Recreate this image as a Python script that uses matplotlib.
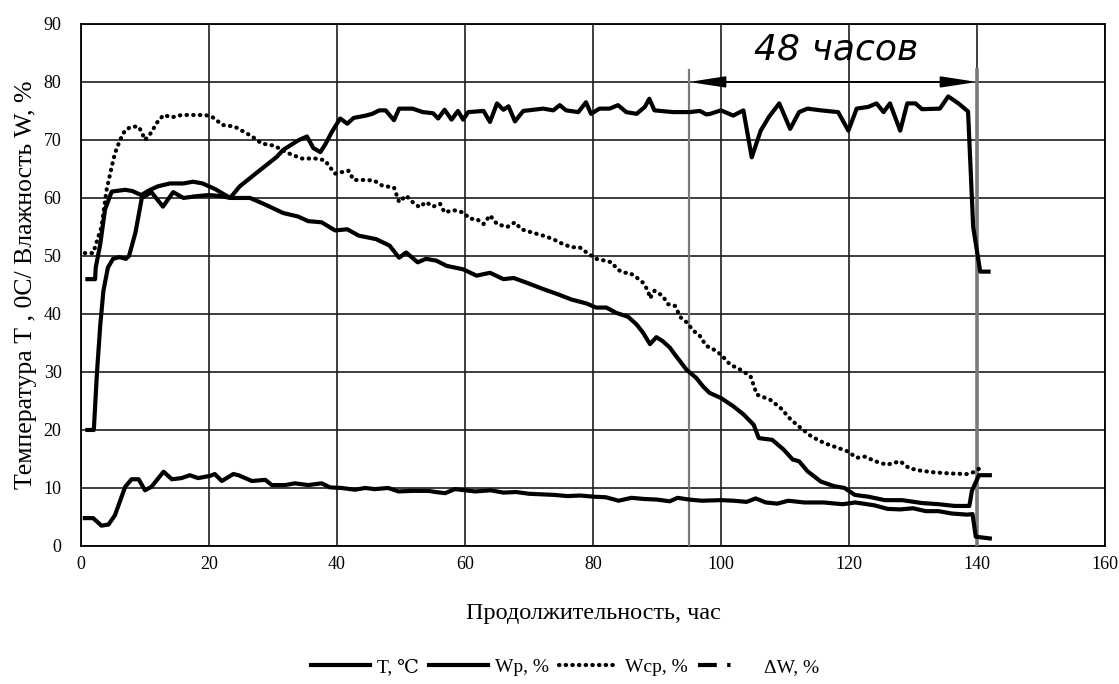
"""
Кривые сушки: температура T, влажность Wp, Wcp и ΔW по продолжительности процесса.
"""

import matplotlib
matplotlib.use("Agg")
import matplotlib.pyplot as plt
from matplotlib.lines import Line2D

# ---------------------------------------------------------------------
# Данные
# ---------------------------------------------------------------------
t_T = [1, 2, 2.5, 3, 3.5, 4.2, 5, 6, 7, 7.5, 8.5, 9.5, 11, 12.8, 14.4, 16, 18, 20,
       22, 23.3, 24.8, 27.4, 30.6, 31.6, 33.9, 35.3, 36.3, 37.4, 38.2, 39.2, 40.5,
       41.6, 42.6, 44.5, 45.5, 46.6, 47.6, 48.9, 49.7, 51.8, 53.4, 55, 55.8, 56.8,
       57.9, 58.9, 59.7, 60.5, 62.9, 63.9, 65, 66, 66.8, 67.8, 69.1, 72.2, 73.8,
       74.8, 75.8, 77.7, 78.9, 79.7, 81, 82.6, 83.9, 85.2, 86.8, 88.1, 88.8, 89.6,
       92.5, 95.1, 96.7, 97.7, 98.3, 100, 101.9, 103.5, 104.8, 106.2, 107.5, 109.1,
       110.8, 112.2, 113.5, 115.6, 118.3, 119.9, 121.2, 123, 124.3, 125.4, 126.4,
       128, 129.1, 130.4, 131.4, 134.2, 135.5, 137.1, 138.6, 139.4, 140.5, 141.8]
T_val = [20, 20, 30, 38, 44, 48, 49.5, 49.8, 49.5, 50, 54, 60, 61, 58.5, 61, 60, 60.3,
         60.5, 60.3, 60, 62, 64.3, 67.1, 68.3, 69.9, 70.6, 68.6, 67.9, 69.3, 71.4, 73.7,
         72.8, 73.8, 74.2, 74.5, 75.1, 75.1, 73.4, 75.4, 75.4, 74.8, 74.6, 73.7, 75.2,
         73.5, 75, 73.5, 74.8, 75, 73.1, 76.3, 75.2, 75.8, 73.2, 75, 75.4, 75.1,
         76, 75.1, 74.8, 76.5, 74.5, 75.4, 75.4, 76, 74.8, 74.5, 75.7, 77.1, 75.1,
         74.8, 74.8, 75, 74.4, 74.5, 75.1, 74.2, 75.1, 67, 71.6, 74, 76.3,
         71.9, 74.8, 75.4, 75.1, 74.8, 71.6, 75.4, 75.7, 76.3, 74.8, 76.3,
         71.6, 76.3, 76.3, 75.3, 75.4, 77.5, 76.3, 74.9, 55, 47.3, 47.3]

t_Wp = [1, 2.2, 2.3, 3, 3.75, 4.8, 6.9, 8, 9.4, 10.8, 12, 13.9, 16, 17.5, 19, 21, 23.3,
        26.4, 28.5, 31.6, 33.9, 35.5, 37.6, 39.7, 41.6, 43.4, 46.1, 48.2, 49.7, 50.8,
        52.6, 53.9, 55.5, 57.1, 59.7, 61.8, 63.9, 66, 67.6, 69.6, 72.2, 74.5, 76.6,
        79, 80.5, 82.1, 83.6, 85.5, 86.8, 87.8, 88.9, 89.9, 90.9, 92, 93, 94.6, 96.1,
        97.2, 98.2, 100, 101.9, 103.5, 105.1, 105.9, 108, 109.8, 111.2, 112.2, 113.5,
        115.6, 117.7, 119.3, 120.9, 123, 125.6, 128.3, 131.4, 134, 136.5, 138.8,
        139.2, 140.3, 142]
Wp_val = [46, 46, 48, 52, 58, 61.1, 61.4, 61.2, 60.5, 61.4, 62, 62.5, 62.5, 62.8, 62.5,
          61.5, 60, 60, 59, 57.4, 56.8, 56, 55.8, 54.4, 54.6, 53.5, 52.9, 51.8, 49.7,
          50.6, 48.9, 49.5, 49.2, 48.3, 47.7, 46.6, 47.1, 46, 46.2, 45.4, 44.3, 43.4,
          42.5, 41.8, 41.1, 41.1, 40.2, 39.5, 38.2, 36.8, 34.8, 36, 35.3, 34.2, 32.7,
          30.4, 29, 27.5, 26.4, 25.5, 24.1, 22.7, 20.9, 18.6, 18.3, 16.6, 14.9, 14.6,
          12.9, 11.1, 10.3, 10, 8.8, 8.5, 7.9, 7.9, 7.4, 7.2, 6.9, 6.9,
          9.5, 12.2, 12.2]

t_Wcp = [0.6, 1.9, 2.7, 3.2, 4, 4.8, 5.3, 6.1, 6.9, 7.9, 9, 9.5, 10, 11, 11.8, 12.9, 14.2,
         15.7, 17, 18.3, 19.4, 20.4, 20.9, 22, 24, 25.6, 26.6, 28.2, 30.2, 32.4, 34.5,
         36.6, 38.1, 38.9, 39.7, 41.8, 42.6, 44.5, 45.8, 47.1, 48.9, 49.7, 50.8, 51.8,
         52.9, 53.9, 55, 56.1, 56.8, 58.2, 59.7, 60.8, 61.8, 62.9, 63.9, 65, 66.6, 67.8,
         68.8, 70.6, 72.2, 73.8, 74.8, 76.6, 77.9, 79, 80.5, 81.8, 82.9, 83.9, 84.9,
         85.7, 86.8, 87.8, 88.6, 88.9, 89.6, 90.9, 91.7, 92.8, 93.7, 94.7, 95.6, 96.7,
         97.7, 98.8, 100, 101.4, 103, 104.6, 105.6, 107.7, 109.3, 110.9, 112.5, 114.1,
         116.2, 118.3, 119.8, 121.2, 122.5, 124.1, 125.9, 128, 129.4, 131.1, 133.2,
         135.8, 138.4, 139.7, 140.4]
Wcp_val = [50.5, 50.5, 53.3, 55, 61.4, 65.4, 67.7, 70, 71.7, 72.3, 72.3, 71.3, 70, 71.3,
           72.9, 74.3, 73.9, 74.3, 74.3, 74.3, 74.3, 74, 73.7, 72.6, 72.3, 71.3, 70.7,
           69.4, 69, 67.7, 66.8, 66.8, 66.5, 65.3, 64.2, 64.7, 63.1, 63.1, 63, 62.1,
           61.8, 59.3, 60.4, 59.3, 58.4, 59.3, 58.5, 59, 57.5, 57.9, 57.5, 56.4, 56.4,
           55.5, 57, 55.5, 55, 55.8, 54.6, 54, 53.5, 52.9, 52.3, 51.5, 51.5, 50.6, 49.5,
           49.2, 48.9, 47.6, 47.1, 47.1, 46.3, 45.4, 44, 42.7, 44, 43.1, 41.7, 41.4,
           39.4, 38.5, 37.2, 36.2, 34.5, 33.9, 33, 31.3, 30.4, 29.3, 26.1, 25.2, 23.8,
           21.8, 20.3, 18.9, 17.7, 16.9, 16.3, 15.2, 15.4, 14.6, 14, 14.6, 13.4, 13,
           12.7, 12.5, 12.4, 12.8, 13.4]

t_dW = [0.6, 1.9, 3.2, 4.3, 5.3, 6.9, 7.9, 9, 10, 11, 12.9, 14.2, 15.7, 17, 18.3, 20.2,
        20.9, 22, 23.8, 24.6, 26.7, 28.8, 29.8, 31.9, 33.4, 35.5, 37.6, 38.9, 40.7,
        42.8, 44.4, 45.9, 48, 49.6, 51.7, 54.3, 55.4, 56.9, 58.4, 61.6, 64, 66, 68,
        70, 72, 74, 76, 78, 80, 82, 84, 86, 88, 90, 92, 93.2, 95, 97, 100, 102, 104,
        105.4, 107, 108.8, 110.5, 113, 116, 119, 121, 124, 126, 128, 130, 132, 134,
        136, 138.5, 139.3, 139.8, 142]
dW_val = [4.8, 4.8, 3.5, 3.7, 5.3, 10.2, 11.5, 11.5, 9.6, 10.2, 12.8, 11.5, 11.7, 12.2,
          11.7, 12.1, 12.4, 11.2, 12.4, 12.2, 11.2, 11.4, 10.5, 10.5, 10.8, 10.5, 10.8,
          10.1, 10, 9.7, 10, 9.8, 10, 9.4, 9.5, 9.5, 9.3, 9.1, 9.8, 9.4, 9.6, 9.2, 9.3,
          9, 8.9, 8.8, 8.6, 8.7, 8.5, 8.4, 7.8, 8.3, 8.1, 8, 7.7, 8.3, 8, 7.8, 7.9, 7.8,
          7.6, 8.2, 7.5, 7.3, 7.8, 7.5, 7.5, 7.2, 7.5, 7, 6.4, 6.3, 6.5, 6, 6, 5.6,
          5.4, 5.5, 1.6, 1.3]

period_start, period_end = 95, 140
period_label = "48 часов"

x_ticks = list(range(0, 161, 20))
y_ticks = list(range(0, 91, 10))

# ---------------------------------------------------------------------
# Рисунок
# ---------------------------------------------------------------------
serif = ["Liberation Serif", "DejaVu Serif"]
plt.rcParams.update({
    "font.family": serif,
    "font.size": 13,
})

fig = plt.figure(figsize=(11.19, 6.84), dpi=100)
ax = fig.add_axes([0.0724, 0.2018, 0.9151, 0.7632])

lw = 3.0
dots = (0, (0.1, 1.5))
ax.plot(t_T, T_val, color="black", lw=lw, solid_joinstyle="round", zorder=4)
ax.plot(t_Wp, Wp_val, color="black", lw=lw, solid_joinstyle="round", zorder=4)
ax.plot(t_Wcp, Wcp_val, color="black", lw=lw, linestyle=dots,
        dash_capstyle="round", zorder=4)
ax.plot(t_dW, dW_val, color="black", lw=lw, solid_joinstyle="round", zorder=4)

# Период 48 часов
ax.plot([period_start, period_start], [0, 82], color="#7a7a7a", lw=1.6, zorder=3)
ax.plot([period_end, period_end], [0, 82], color="#7a7a7a", lw=2.6, zorder=3)
ax.annotate("", xy=(period_start, 80), xytext=(period_end, 80),
            arrowprops=dict(arrowstyle="<|-|>,head_length=1.1,head_width=0.17",
                            mutation_scale=20, color="black", lw=1.3,
                            shrinkA=0, shrinkB=0),
            zorder=5)
ax.text((period_start + period_end) / 2 + 0.5, 85.6, period_label,
        ha="center", va="center", fontsize=26, fontstyle="italic",
        family=["DejaVu Sans"], zorder=5)

# Оси и сетка
ax.set_xlim(0, 160)
ax.set_ylim(0, 90)
ax.set_xticks(x_ticks)
ax.set_yticks(y_ticks)
ax.tick_params(axis="y", length=0, pad=14, labelsize=13)
ax.tick_params(axis="x", length=0, pad=7, labelsize=13)
ax.grid(True, color="#1e1e1e", lw=1.2)
ax.set_axisbelow(True)
for sp in ax.spines.values():
    sp.set_linewidth(1.3)

ax.set_xlabel("Продолжительность, час", fontsize=17.5, labelpad=22)
ax.set_ylabel("Температура Т , 0С/ Влажность W, %", fontsize=18.5, labelpad=5)

# Легенда
handles = [
    Line2D([], [], color="black", lw=lw),
    Line2D([], [], color="black", lw=lw),
    Line2D([], [], color="black", lw=lw, linestyle=dots, dash_capstyle="round"),
    Line2D([], [], color="black", lw=lw, linestyle=(0, (4.5, 2.5, 0.8, 10))),
]
labels = ["T, \u2103", "Wp, %", "Wcp, %", "ΔW, %"]
fig.legend(handles, labels, loc="center", bbox_to_anchor=(0.505, 0.025),
           ncol=4, frameon=False, fontsize=14, handlelength=3.0,
           handletextpad=0.4, columnspacing=0.5)

fig.savefig("out.png", dpi=100, facecolor="white")
